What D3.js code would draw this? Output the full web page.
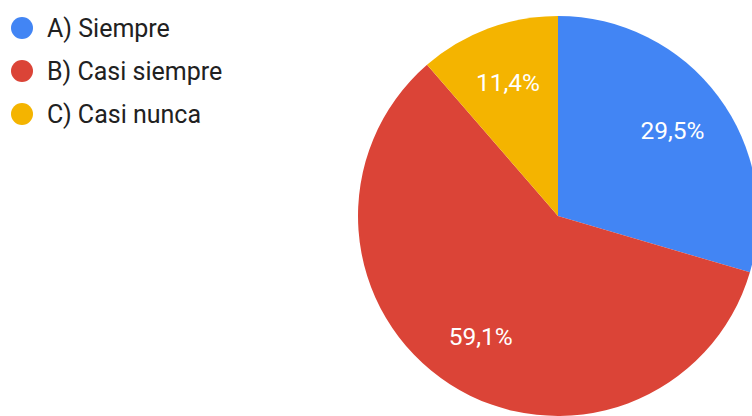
<!DOCTYPE html>
<html>
<head>
<meta charset="utf-8">
<script src="https://cdn.jsdelivr.net/npm/d3@7"></script>
<style>
  html, body { margin: 0; padding: 0; background: #fff; }
  svg { display: block; font-family: Roboto, "Noto Sans", Arial, sans-serif; }
</style>
</head>
<body>
<svg id="chart" width="752" height="416"></svg>
<script>
// Survey answers: response counts per option
const categories = ["A) Siempre", "B) Casi siempre", "C) Casi nunca"];
const counts = [13, 26, 5];
const colors = ["#4285f4", "#db4437", "#f4b400"];

const width = 752, height = 416;
const svg = d3.select("#chart");

const cx = 558, cy = 216, radius = 200;
const total = d3.sum(counts);
const data = categories.map((c, i) => ({ name: c, value: counts[i], color: colors[i] }));

const pie = d3.pie().value(d => d.value).sort(null);
const arcs = pie(data);
const arc = d3.arc().innerRadius(0).outerRadius(radius);
const labelArc = d3.arc().innerRadius(radius * 0.715).outerRadius(radius * 0.715);

const g = svg.append("g").attr("transform", `translate(${cx},${cy})`);

g.selectAll("path.slice")
  .data(arcs)
  .join("path")
  .attr("class", "slice")
  .attr("d", arc)
  .attr("fill", d => d.data.color);

const fmt = v => (v * 100).toFixed(1).replace(".", ",") + "%";

g.selectAll("text.pct")
  .data(arcs)
  .join("text")
  .attr("class", "pct")
  .attr("transform", d => `translate(${labelArc.centroid(d)})`)
  .attr("text-anchor", "middle")
  .attr("dy", "0.36em")
  .attr("fill", "#ffffff")
  .attr("font-size", 24.5)
  .text(d => fmt(d.data.value / total));

// Legend
const legend = svg.append("g").attr("transform", "translate(22,28)");
const rowStep = 43;
const item = legend.selectAll("g.item")
  .data(data)
  .join("g")
  .attr("class", "item")
  .attr("transform", (d, i) => `translate(0,${i * rowStep})`);

item.append("circle")
  .attr("r", 11)
  .attr("fill", d => d.color);

item.append("text")
  .attr("x", 25)
  .attr("y", 8.5)
  .attr("font-size", 25)
  .attr("fill", "#212121")
  .text(d => d.name);
</script>
</body>
</html>
